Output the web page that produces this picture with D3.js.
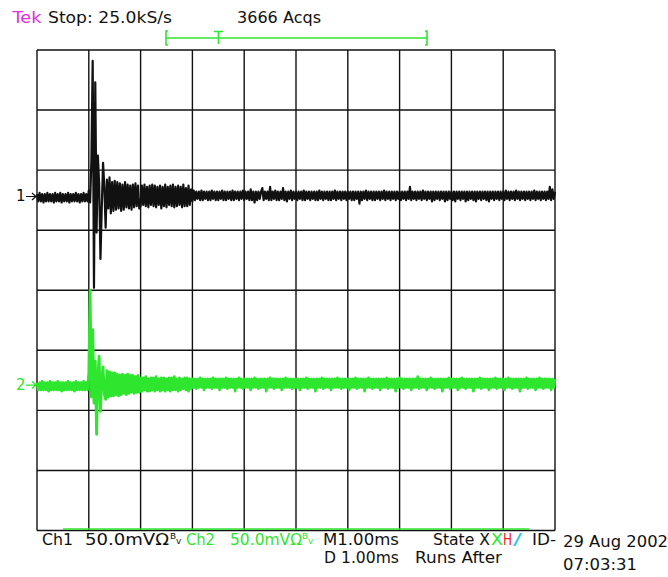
<!DOCTYPE html>
<html>
<head>
<meta charset="utf-8">
<script src="https://cdn.jsdelivr.net/npm/d3@7"></script>
<style>
  html, body { margin: 0; padding: 0; background: #fff; }
  svg text { font-family: "DejaVu Sans", sans-serif; font-size: 15px; }
</style>
</head>
<body>
<svg id="scope" width="668" height="577"></svg>
<script>
// record: trigger at t = 0, one sample every 0.025 ms, 10 divisions of 1 ms
const timeStart   = -1,     // ms
      sampleStep  = 0.025,  // ms
      divisions   = 10,
      mVPerDiv    = 50,
      ch1Offset   = 1.561,  // divisions above centre
      ch2Offset   = -1.578;

// channel 1, mV (two lines = 1 ms)
const ch1Values = [
  2,-4,3,-4,2,-5,2,-4,3,-4,2,-4,2,-5,3,-4,2,-4,3,-5,
  2,-4,2,-4,3,-5,2,-4,2,-4,3,-4,2,-5,2,-4,3,-4,2,-4,
  5,-5,30,113,-76,95,-30,34,10,-52,-10,28,8,-26,14,-10,16,-14,12,-12,
  13,-11,12,-10,11,-12,10,-11,12,-9,10,-10,9,-11,10,-9,11,-8,9,-10,
  -8,9,-7,10,-8,8,-9,9,-7,10,-8,9,-9,8,-7,9,-10,8,-8,10,
  -9,8,-7,9,-8,10,-9,8,-8,9,-7,8,-9,10,-8,7,-8,9,-7,6,
  -4,5,-3,4,-2,4,-3,5,-3,4,-2,4,-3,4,-3,5,-2,4,-3,4,
  -3,4,-2,5,-3,4,-3,4,-2,4,-3,5,-3,4,-2,4,-3,4,-2,5,
  -3,4,-2,4,-3,6,-3,4,-5,4,-3,4,-2,4,7,-3,4,-2,4,-3,
  8,-3,4,-2,5,-3,4,-3,4,-2,7,-3,4,-4,4,-2,5,-3,4,-2,
  4,-3,4,-2,4,-3,5,-3,4,-2,4,-3,4,-2,4,-3,4,-3,5,-2,
  4,-3,4,-2,4,-3,4,-3,4,-2,5,-3,4,-2,4,-3,4,-2,4,-3,
  4,-2,4,-3,4,-3,4,-2,4,-6,4,-3,4,-2,5,-3,4,-2,4,-3,
  4,-3,4,-2,4,-3,4,-2,5,-3,4,-2,4,-3,4,-2,4,-3,4,-2,
  4,-3,4,-2,4,-3,4,-2,8,-3,4,-2,4,-3,4,-2,4,-3,5,-2,
  4,-3,4,-2,4,-4,4,-3,4,-2,4,-3,4,-2,4,-4,4,-3,4,-2,
  4,-3,4,-4,4,-2,4,-3,4,-2,4,-4,4,-3,4,-2,4,-3,4,-4,
  4,-2,4,-3,4,-2,4,-3,4,-4,4,-2,4,-3,4,-2,4,-3,4,-2,
  4,-3,5,-2,4,-3,4,-2,4,-3,5,-2,4,-3,4,-2,4,-3,4,-2,
  4,-3,4,-2,5,-3,4,-2,4,-3,4,-2,4,-3,4,-2,8,-3,6,-2,
  4
];

// channel 2, mV
const ch2Values = [
  2,-4,2,-4,3,-4,2,-4,2,-5,3,-4,2,-4,2,-4,3,-4,2,-5,
  2,-4,2,-4,3,-4,2,-4,2,-5,3,-4,2,-4,2,-4,3,-4,2,-4,
  10,79,-10,46,-15,20,-41,8,24,-22,6,15,-8,-12,12,-10,11,-9,10,-9,
  10,-8,9,-9,8,-8,9,-7,8,-8,9,-7,8,-6,8,-7,7,-6,8,-6,
  6,-5,6,-4,7,-5,5,-5,6,-4,6,-5,7,-4,5,-5,6,-4,6,-5,
  5,-4,6,-5,6,-4,7,-4,5,-5,6,-4,5,-3,6,-4,6,-5,5,-3,
  5,-2,5,-3,5,-2,6,-2,5,-4,5,-2,5,-2,5,-3,6,-2,5,-2,
  5,-4,5,-2,5,-2,6,-3,5,-2,5,-2,5,-5,5,-2,6,-2,5,-3,
  5,-2,5,-2,5,-4,5,-2,6,-2,5,-3,5,-2,5,-2,5,-5,5,-2,
  6,-2,5,-3,5,-2,5,-2,5,-4,5,-2,6,-2,5,-2,5,-3,5,-2,
  5,-2,5,-4,5,-2,5,-2,6,-3,5,-2,5,-2,5,-5,5,-2,5,-2,
  6,-3,5,-2,5,-2,5,-4,5,-2,5,-2,6,-2,5,-3,5,-2,5,-2,
  5,-4,5,-2,5,-2,6,-3,5,-2,5,-2,5,-5,5,-2,6,-2,5,-3,
  5,-2,5,-2,5,-4,5,-2,5,-2,6,-3,5,-2,5,-2,5,-5,5,-2,
  6,-2,5,-3,5,-2,5,-2,5,-4,5,-2,5,-2,7,-3,5,-2,5,-2,
  5,-4,5,-2,6,-2,5,-3,5,-2,5,-2,5,-5,5,-2,5,-2,6,-3,
  5,-2,5,-2,5,-4,5,-2,6,-2,5,-3,5,-2,5,-2,5,-5,5,-2,
  5,-2,6,-3,5,-2,5,-2,5,-4,5,-2,5,-2,6,-3,5,-2,5,-2,
  5,-4,5,-2,6,-2,5,-3,5,-2,5,-2,5,-5,5,-2,5,-2,6,-3,
  5,-2,5,-2,5,-4,5,-2,6,-2,5,-3,5,-2,5,-2,5,-4,5,-2,
  5
];

const headerTexts = ["Tek", "Stop: 25.0kS/s", "3666 Acqs"];
const ch1Readout  = ["Ch1", "50.0mVΩ"];
const ch2Readout  = ["Ch2", "50.0mVΩ"];
const timeReadout = ["M1.00ms", "D 1.00ms", "Runs After"];
const stateParts  = ["State X", "X", "H", "/"];
const dateTexts   = ["29 Aug 2002", "07:03:31"];

const black = "#111", green = "#2ee62e", magenta = "#e22fe2",
      red = "#ee2020", cyan = "#2ec8e0";

let svg = d3.select("#scope"),
    x   = d3.scaleLinear().domain([timeStart, timeStart + divisions]).range([37, 555]),
    y   = d3.scaleLinear().domain([-4, 4]).range([530.5, 50]);

/////////////////////
//      Grid       //
/////////////////////

let grid = svg.append("g").attr("stroke", black).attr("stroke-width", 1.4);

grid.selectAll("line.v")
  .data(d3.range(timeStart, timeStart + divisions + 1))
  .enter().append("line")
  .attr("x1", d => x(d)).attr("x2", d => x(d))
  .attr("y1", y(4)).attr("y2", y(-4));

grid.selectAll("line.h")
  .data(d3.range(-4, 5))
  .enter().append("line")
  .attr("x1", x(timeStart)).attr("x2", x(timeStart + divisions))
  .attr("y1", d => y(d)).attr("y2", d => y(d));

/////////////////////
//     Traces      //
/////////////////////

function trace(values, offset) {
  return d3.line()
    .x((d, i) => x(timeStart + i * sampleStep))
    .y(d => y(offset + d / mVPerDiv))(values);
}

svg.append("path")
  .attr("d", trace(ch2Values, ch2Offset))
  .attr("fill", "none").attr("stroke", green).attr("stroke-width", 2.8)
  .attr("stroke-linejoin", "round");

svg.append("path")
  .attr("d", trace(ch1Values, ch1Offset))
  .attr("fill", "none").attr("stroke", black).attr("stroke-width", 2.2)
  .attr("stroke-linejoin", "round");

// channel markers
[[ch1Offset, "1", black], [ch2Offset, "2", green]].forEach(([off, name, col]) => {
  let yy = y(off);
  svg.append("text").attr("x", 16).attr("y", yy + 5).attr("fill", col).text(name);
  svg.append("path")
    .attr("d", `M26,${yy}H36M32,${yy - 3.5}L36,${yy}L32,${yy + 3.5}`)
    .attr("fill", "none").attr("stroke", col).attr("stroke-width", 1.2);
});

/////////////////////
//     Readouts    //
/////////////////////

function label(str, px, py, width, col) {
  let t = svg.append("text").attr("x", px).attr("y", py).attr("fill", col).text(str);
  if (width) t.attr("textLength", width).attr("lengthAdjust", "spacingAndGlyphs");
  return t;
}

label(headerTexts[0], 12.5, 23, 29, magenta);
label(headerTexts[1], 48, 23, 124, black);
label(headerTexts[2], 237, 23, 84, black);

// trigger position bar
let bar = svg.append("g").attr("fill", "none").attr("stroke", green).attr("stroke-width", 1.6);
bar.append("path").attr("d", "M168,31H166V45H168");
bar.append("path").attr("d", "M425,31H427V45H425");
bar.append("line").attr("x1", 166).attr("x2", 427).attr("y1", 38).attr("y2", 38);
bar.append("path").attr("d", "M214,31.5H223M218.5,31.5V44");

// green strip along bottom edge
svg.append("line")
  .attr("x1", 63).attr("x2", 529).attr("y1", 529).attr("y2", 529)
  .attr("stroke", green).attr("stroke-width", 1.6);

label(ch1Readout[0], 42, 545, 31, black);
label(ch1Readout[1], 85, 545, 84, black);
label("ᴮᵥ", 170, 544, 12, black);
label(ch2Readout[0], 186, 545, 29, green);
label(ch2Readout[1], 230, 545, 72, green);
label("ᴮᵥ", 302, 544, 12, green);

label(timeReadout[0], 323, 545, 76, black);
label(timeReadout[1], 324, 563, 75, black);
label(timeReadout[2], 415, 563, 87, black);

label(stateParts[0], 433, 545, 57, black);
label(stateParts[1], 491, 545, 12, green);
label(stateParts[2], 503, 545, 9, red);
label(stateParts[3], 513, 545, 9, cyan);
label("ID-", 532, 545, 24, black);

label(dateTexts[0], 563, 547, 105, black);
label(dateTexts[1], 563, 570, 74, black);
</script>
</body>
</html>
